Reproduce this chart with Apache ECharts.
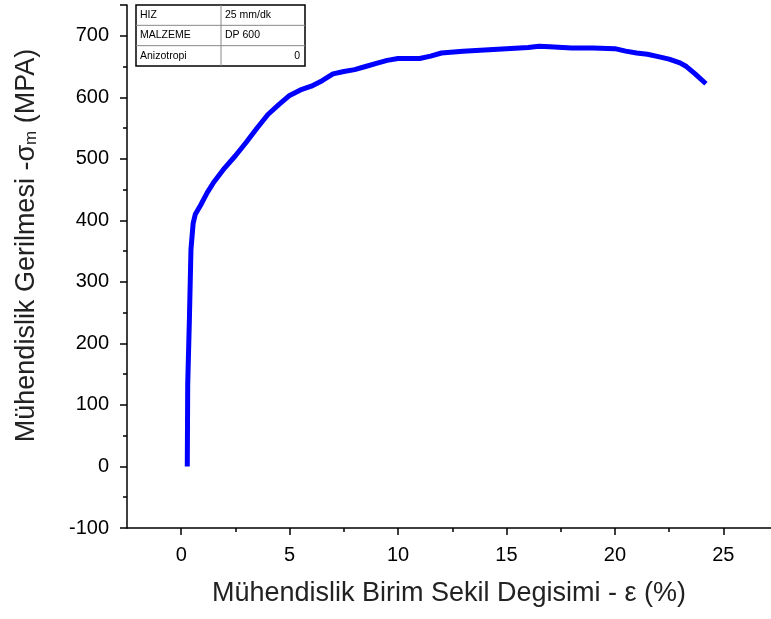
<!DOCTYPE html>
<html>
<head>
<meta charset="utf-8">
<script src="https://cdn.jsdelivr.net/npm/echarts@6/dist/echarts.min.js"></script>
<style>
  html, body { margin: 0; padding: 0; background: #fff; }
  #chart { width: 771px; height: 619px; }
</style>
</head>
<body>
<div id="chart"></div>
<script>
// strain (%) and engineering stress (MPa)
var strain = [0.28, 0.30, 0.38, 0.45, 0.55, 0.65, 0.9, 1.2, 1.5, 2.0, 2.5, 3.0, 3.5, 4.0, 4.5, 5.0, 5.5, 6.0, 6.5, 7.0, 7.5, 8.0, 8.5, 9.0, 9.5, 10.0, 11.0, 11.5, 12.0, 13.0, 14.0, 15.0, 16.0, 16.5, 17.0, 18.0, 19.0, 20.0, 20.5, 21.0, 21.5, 22.0, 22.5, 23.0, 23.3, 23.7, 24.2];
var stress = [0, 133, 243, 353, 395, 410, 425, 445, 462, 485, 505, 527, 550, 572, 588, 603, 612, 618, 627, 638, 642, 645, 650, 655, 660, 663, 663, 667, 672, 675, 677, 679, 681, 683, 682, 680, 680, 679, 675, 672, 670, 666, 662, 656, 650, 638, 622];

var xMajorTicks = [0, 5, 10, 15, 20, 25];
var xMinorTicks = [2.5, 7.5, 12.5, 17.5, 22.5];

var tableRows = [
  ["HIZ", "25 mm/dk"],
  ["MALZEME", "DP 600"],
  ["Anizotropi", "0"]
];

var chartDom = document.getElementById("chart");
var myChart = echarts.init(chartDom);
var option;

var font = "Liberation Sans, Arial, sans-serif";
var pts = strain.map(function (v, i) { return [v, stress[i]]; });

// small info table in the top-left corner
var tbl = { x: 136, y: 5, w: 169, h: 61, col: 85 };
var rowH = tbl.h / tableRows.length;
var tableEls = [
  { type: "rect", shape: { x: tbl.x, y: tbl.y, width: tbl.w, height: tbl.h },
    style: { fill: "#fff", stroke: "#000", lineWidth: 1.5 } },
  { type: "line", shape: { x1: tbl.x + tbl.col, y1: tbl.y, x2: tbl.x + tbl.col, y2: tbl.y + tbl.h },
    style: { stroke: "#888", lineWidth: 1 } }
];
tableRows.forEach(function (r, i) {
  if (i > 0) {
    tableEls.push({ type: "line",
      shape: { x1: tbl.x, y1: tbl.y + i * rowH, x2: tbl.x + tbl.w, y2: tbl.y + i * rowH },
      style: { stroke: "#888", lineWidth: 1 } });
  }
  var cy = tbl.y + (i + 0.5) * rowH;
  tableEls.push({ type: "text", x: tbl.x + 4, y: cy,
    style: { text: r[0], font: "10.5px " + font, fill: "#000", verticalAlign: "middle" } });
  var right = i === 2;
  tableEls.push({ type: "text", x: right ? tbl.x + tbl.w - 5 : tbl.x + tbl.col + 4, y: cy,
    style: { text: r[1], font: "10.5px " + font, fill: "#000", verticalAlign: "middle", align: right ? "right" : "left" } });
});

option = {
  animation: false,
  backgroundColor: "#fff",
  grid: { left: 127, right: 0, top: 5, bottom: 91, containLabel: false },
  xAxis: [
    {
      type: "value",
      min: -2.5,
      max: 27.2,
      position: "bottom",
      name: "Mühendislik Birim Sekil Degisimi - ε (%)",
      nameLocation: "middle",
      nameGap: 52,
      nameTextStyle: { fontFamily: font, fontSize: 27, color: "#222" },
      axisLine: { onZero: false, lineStyle: { color: "#000", width: 1.5 } },
      axisTick: { customValues: xMajorTicks, length: 7, lineStyle: { color: "#000", width: 1.5 } },
      axisLabel: { customValues: xMajorTicks, margin: 17, fontFamily: font, fontSize: 20, color: "#000" },
      splitLine: { show: false }
    },
    {
      type: "value",
      min: -2.5,
      max: 27.2,
      position: "bottom",
      axisLine: { show: false, onZero: false },
      axisTick: { customValues: xMinorTicks, length: 4, lineStyle: { color: "#000", width: 1.5 } },
      axisLabel: { show: false },
      splitLine: { show: false }
    }
  ],
  yAxis: {
    type: "value",
    min: -100,
    max: 750,
    interval: 100,
    name: "{a|Mühendislik Gerilmesi -σ}{s|m}{a| (MPA)}",
    nameLocation: "middle",
    nameGap: 87,
    nameTextStyle: {
      padding: [0, 0, 0, 42],
      rich: {
        a: { fontFamily: font, fontSize: 27, color: "#222" },
        s: { fontFamily: font, fontSize: 17, color: "#222", padding: [10, 0, 0, 0] }
      }
    },
    axisLine: { onZero: false, lineStyle: { color: "#000", width: 1.5 } },
    axisTick: { length: 7, lineStyle: { color: "#000", width: 1.5 } },
    minorTick: { show: true, splitNumber: 2, length: 4, lineStyle: { color: "#000", width: 1.5 } },
    axisLabel: { showMaxLabel: false, margin: 18, fontFamily: font, fontSize: 20, color: "#000" },
    splitLine: { show: false }
  },
  graphic: tableEls,
  series: [
    {
      type: "line",
      data: pts,
      showSymbol: false,
      lineStyle: { color: "#0000ff", width: 5 },
      itemStyle: { color: "#0000ff" }
    }
  ]
};

option && myChart.setOption(option);
</script>
</body>
</html>
